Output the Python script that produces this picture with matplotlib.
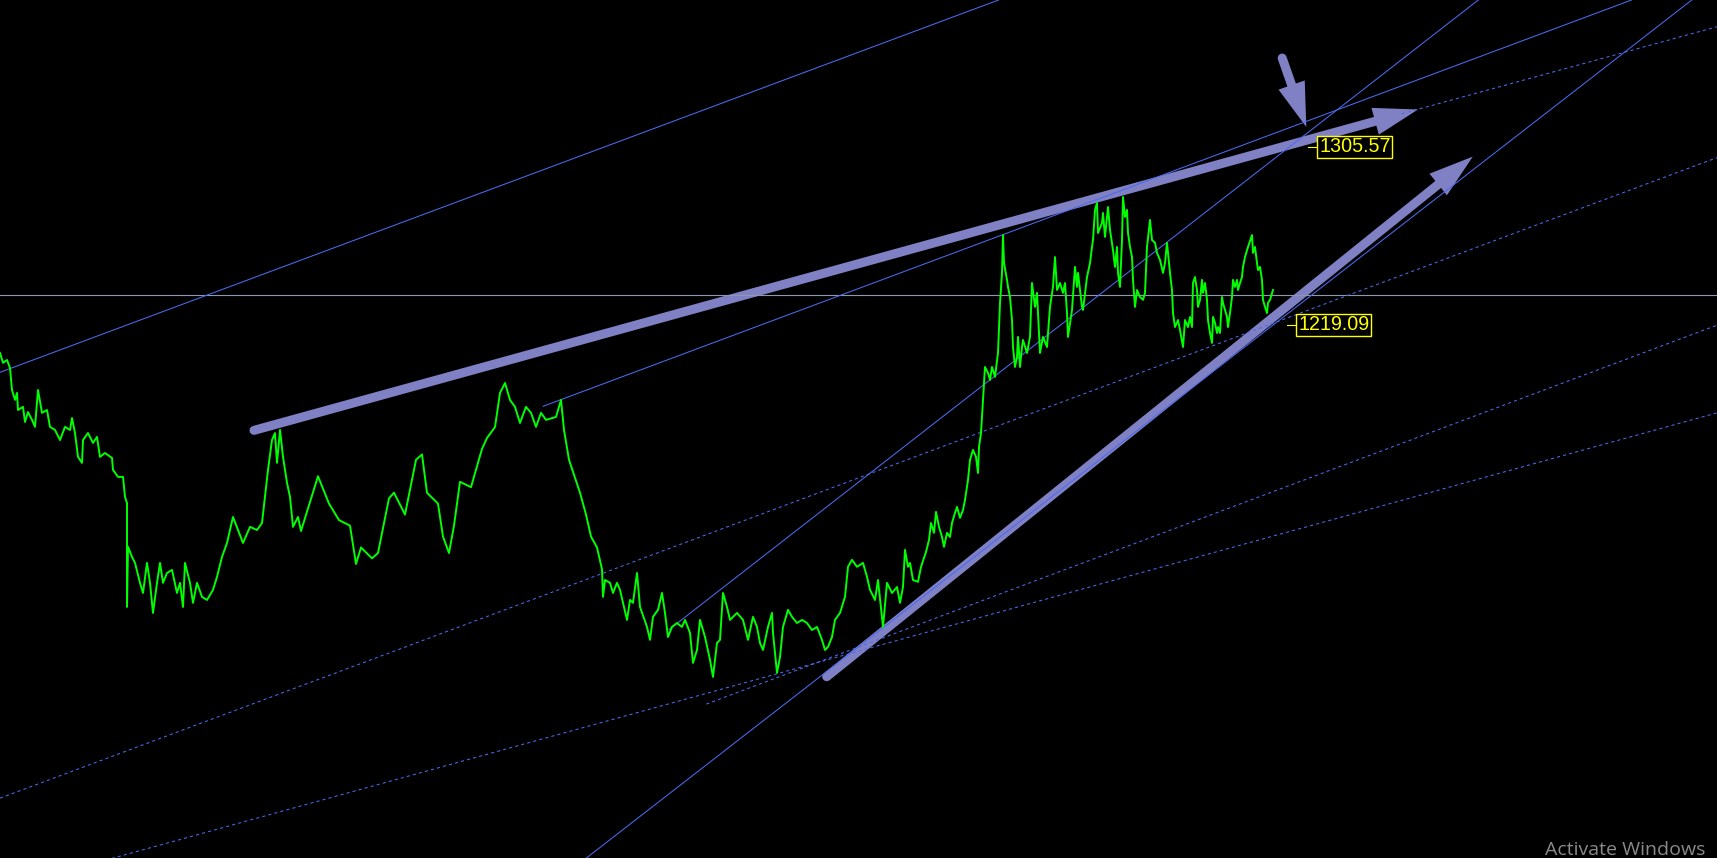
import matplotlib
matplotlib.use('Agg')
import matplotlib.pyplot as plt
from matplotlib.patches import FancyArrowPatch

# price series (bar index, close)
bars = [0, 3, 7, 10, 12, 15, 17, 18, 23, 25, 28, 32, 35, 38, 42, 47, 50, 55, 60, 65,
        70, 72, 75, 78, 82, 83, 88, 93, 97, 100, 105, 112, 113, 118, 123, 125, 127, 127, 128, 132,
        135, 140, 143, 147, 150, 153, 157, 160, 163, 167, 172, 177, 180, 183, 185, 190, 193, 197, 202, 207,
        213, 217, 222, 227, 233, 238, 243, 250, 257, 262, 265, 268, 272, 275, 277, 280, 283, 287, 290, 293,
        298, 301, 318, 329, 339, 350, 356, 361, 372, 378, 389, 394, 405, 416, 422, 427, 438, 443, 449, 454,
        460, 471, 482, 487, 495,
        500, 505, 510, 515, 520, 526, 531, 536, 541, 546, 556, 561, 564, 569, 580, 586, 591, 597, 602,
        603, 605, 610, 613, 617, 620, 627, 630, 633, 637, 640, 647, 650, 653, 658, 662, 665, 668, 672, 677,
        682, 685, 690, 693, 697, 700, 705, 710, 713, 717, 720, 723, 727, 730, 737, 743, 748, 753, 757, 760,
        763, 768, 772, 773, 777, 780, 783, 788, 792, 797, 802, 807, 812, 817, 822, 825, 828, 832, 835, 840,
        845, 848, 852, 857, 863, 867, 870, 875, 878, 883, 887, 892, 897,
        900, 903, 905, 908, 910, 913, 918, 921, 926, 929, 931, 934, 936, 939, 942, 944, 947, 950, 952, 955,
        957, 960, 963, 965, 968, 970, 973, 976, 978, 979, 981, 983, 985, 988, 990, 992, 995, 998, 1000, 1002,
        1003, 1004, 1007, 1008, 1010, 1012, 1013, 1015, 1017, 1018, 1020, 1022, 1023, 1027, 1030, 1032, 1035, 1037, 1038, 1040,
        1043, 1047, 1050, 1053, 1055, 1057, 1060, 1063, 1065, 1067, 1068, 1072, 1075, 1077, 1078, 1082, 1083, 1087, 1090, 1092,
        1093, 1095, 1097, 1098, 1102, 1103, 1105, 1108, 1110, 1113, 1115, 1117, 1118, 1120, 1122, 1123, 1125, 1127, 1128, 1130,
        1132, 1133, 1135, 1137, 1140, 1143, 1145, 1147, 1150, 1152, 1155, 1157, 1160, 1163, 1165, 1167, 1168, 1170, 1172, 1173,
        1175, 1178, 1180, 1183, 1185, 1188, 1190, 1192, 1193, 1195, 1197, 1198, 1200, 1202, 1203, 1205, 1207, 1208, 1210, 1212,
        1213, 1215, 1217, 1218, 1220, 1222, 1223, 1225, 1227, 1228, 1230, 1232, 1233, 1235, 1237, 1238, 1240, 1242, 1243, 1245,
        1248, 1252, 1253, 1255, 1257, 1258, 1260, 1262, 1263, 1265, 1267, 1268, 1270, 1273]
close = [1205.5, 1200.7, 1202.1, 1198.2, 1187.5, 1182.7, 1186.1, 1177.8, 1179.3, 1172.0, 1176.8, 1173.0, 1169.6, 1187.5, 1176.4, 1177.8, 1169.6, 1168.1, 1163.2, 1169.6,
         1168.1, 1173.9, 1166.6, 1155.0, 1152.1, 1163.2, 1166.6, 1161.8, 1164.7, 1155.0, 1156.9, 1154.5, 1148.7, 1145.3, 1145.3, 1135.6, 1132.6, 1082.1, 1111.3, 1106.4,
         1103.5, 1093.8, 1088.9, 1103.5, 1093.8, 1079.2, 1093.8, 1103.5, 1093.8, 1098.6, 1100.1, 1088.9, 1093.8, 1082.1, 1103.5, 1093.8, 1084.1, 1093.8, 1087.0, 1085.5,
         1090.4, 1096.7, 1106.4, 1113.2, 1125.8, 1119.5, 1113.2, 1121.0, 1119.5, 1122.9, 1135.6, 1148.7, 1163.2, 1166.6, 1152.1, 1168.1, 1155.0, 1142.4, 1135.6, 1121.0,
         1125.8, 1119.0, 1145.6, 1132.3, 1124.3, 1121.6, 1103.0, 1111.0, 1105.7, 1108.3, 1134.9, 1137.6, 1127.0, 1153.6, 1156.2, 1137.6, 1132.3, 1116.3, 1108.3, 1121.6,
         1142.9, 1140.3, 1158.9, 1164.2, 1169.5,
         1186.1, 1190.9, 1182.7, 1179.3, 1171.5, 1179.3, 1176.4, 1169.6, 1176.4, 1173.0, 1174.4, 1182.7, 1168.1, 1153.6, 1137.6, 1127.0, 1116.3, 1111.0, 1100.4,
         1087.0, 1095.2, 1093.8, 1088.9, 1093.8, 1090.4, 1075.8, 1085.5, 1084.1, 1098.6, 1082.1, 1072.4, 1066.1, 1077.3, 1080.7, 1088.9, 1079.2, 1067.5, 1072.4, 1074.3,
         1072.4, 1075.8, 1069.5, 1054.9, 1061.2, 1075.8, 1067.5, 1056.4, 1048.1, 1064.6, 1066.1, 1088.9, 1082.1, 1075.8, 1079.2, 1075.8, 1066.1, 1077.3, 1072.4, 1064.6,
         1061.2, 1072.4, 1079.2, 1069.5, 1050.1, 1057.8, 1072.4, 1080.7, 1077.3, 1074.3, 1075.8, 1074.3, 1070.9, 1072.4, 1066.1, 1061.2, 1062.7, 1067.5, 1075.8, 1079.2,
         1087.0, 1101.6, 1105.0, 1101.6, 1103.5, 1096.7, 1090.4, 1085.5, 1095.2, 1072.4, 1093.8, 1088.9, 1091.8,
         1084.1, 1091.8, 1109.8, 1101.6, 1103.5, 1095.2, 1094.3, 1101.6, 1108.8, 1114.7, 1122.9, 1118.1, 1128.3, 1121.0, 1116.1, 1111.3, 1118.1, 1116.1, 1122.9, 1127.8,
         1130.7, 1125.4, 1129.2, 1134.1, 1143.8, 1153.5, 1158.4, 1155.0, 1147.2, 1159.8, 1166.6, 1182.7, 1198.7, 1195.8, 1192.4, 1198.7, 1193.9, 1205.5, 1229.8, 1244.4,
         1262.8, 1249.2, 1241.0, 1237.6, 1232.7, 1221.5, 1208.4, 1198.7, 1203.6, 1213.3, 1198.7, 1208.4, 1211.8, 1205.5, 1213.3, 1239.5, 1227.9, 1234.7, 1224.9, 1205.5,
         1213.3, 1208.4, 1227.9, 1237.6, 1252.1, 1236.1, 1239.5, 1234.7, 1239.5, 1224.9, 1213.3, 1226.4, 1247.3, 1237.6, 1244.4, 1227.9, 1226.4, 1242.4, 1249.2, 1257.0,
         1260.4, 1275.0, 1278.4, 1263.8, 1268.7, 1273.5, 1261.9, 1276.4, 1265.3, 1255.5, 1247.3, 1257.0, 1244.4, 1237.6, 1260.4, 1281.3, 1271.6, 1275.0, 1263.8, 1257.0,
         1252.1, 1241.0, 1227.9, 1236.1, 1232.7, 1231.3, 1234.7, 1257.0, 1270.1, 1260.4, 1259.0, 1254.1, 1250.7, 1244.4, 1249.2, 1259.0, 1254.1, 1244.4, 1236.1, 1224.9,
         1218.1, 1221.5, 1216.7, 1208.4, 1221.5, 1218.1, 1223.0, 1218.1, 1239.5, 1242.4, 1236.1, 1227.9, 1231.3, 1241.0, 1234.7, 1239.5, 1231.3, 1221.5, 1215.2, 1210.4,
         1223.0, 1220.1, 1215.2, 1218.1, 1215.2, 1232.7, 1229.8, 1226.4, 1223.0, 1218.1, 1224.9, 1232.7, 1241.0, 1237.6, 1241.0, 1236.1, 1239.5, 1242.4, 1247.3, 1252.1,
         1257.0, 1262.8, 1254.1, 1257.0, 1249.2, 1245.8, 1247.3, 1241.0, 1231.3, 1227.9, 1224.9, 1229.8, 1231.3, 1236.1]

# trend lines: (bar0, price0, bar1, price1)
solid_lines = [
    (0, 1196.1, 998.6, 1377.0),
    (543.1, 1179.6, 1631.6, 1377.0),
    (585.8, 959.9, 1691.8, 1377.0),
    (669.0, 1071.1, 1478.3, 1377.0),
]
dashed_lines = [
    (0, 989.2, 1717, 1300.4),
    (111.7, 959.9, 1717, 1176.4),
    (706.3, 1034.9, 1717, 1219.0),
    (1401.6, 1321.7, 1717, 1364.0),
]
hline_price = 1233.9

# hand drawn arrows: (tail bar, tail price, tip bar, tip price)
arrows = [
    (254.0, 1167.9, 1418.0, 1323.8),
    (826.7, 1048.2, 1472.8, 1300.9),
    (1282.2, 1348.8, 1306.3, 1315.3),
]

# price labels on the right
label_text = ['1305.57', '1219.09']
label_price = [1305.57, 1219.09]
label_bar = [1318, 1297]

fig = plt.figure(figsize=(17.17, 8.58), dpi=100)
fig.patch.set_facecolor('black')
ax = fig.add_axes([0, 0, 1, 1])
ax.set_facecolor('black')
ax.set_xlim(0, 1717)
ax.set_ylim(960.13, 1376.99)
ax.axis('off')

blue = '#4a6cf0'
purple = '#8080c4'

ax.axhline(hline_price, color='#9098b0', lw=0.8)

for x0, y0, x1, y1 in solid_lines:
    ax.plot([x0, x1], [y0, y1], color=blue, lw=0.75)
for x0, y0, x1, y1 in dashed_lines:
    ax.plot([x0, x1], [y0, y1], color=blue, lw=0.75, linestyle=(0, (3, 3)))

ax.plot(bars, close, color='#00ff00', lw=1.4)

for x0, y0, x1, y1 in arrows:
    shaft = FancyArrowPatch((x0, y0), (x1, y1), arrowstyle='-', shrinkA=0, shrinkB=26,
                            lw=6.5, color=purple, capstyle='round', mutation_scale=1)
    ax.add_patch(shaft)
    head = FancyArrowPatch((x0, y0), (x1, y1), arrowstyle='-|>,head_length=32,head_width=10',
                           shrinkA=0, shrinkB=0, lw=0, color=purple, mutation_scale=1)
    ax.add_patch(head)

for txt, p, b in zip(label_text, label_price, label_bar):
    ax.plot([b - 10, b], [p, p], color='yellow', lw=0.8)
    ax.text(b + 1, p, txt, color='yellow', fontsize=14.2, va='center', ha='left',
            family=['Liberation Sans', 'DejaVu Sans'],
            bbox=dict(boxstyle='square,pad=0.1', facecolor='black', edgecolor='yellow', lw=1))

fig.text(0.8998, 0.004, 'Activate Windows', color='#8a8a8a', fontsize=14,
         family=['Open Sans', 'DejaVu Sans'], ha='left', va='baseline')

fig.savefig('out.png', dpi=100, facecolor='black')
